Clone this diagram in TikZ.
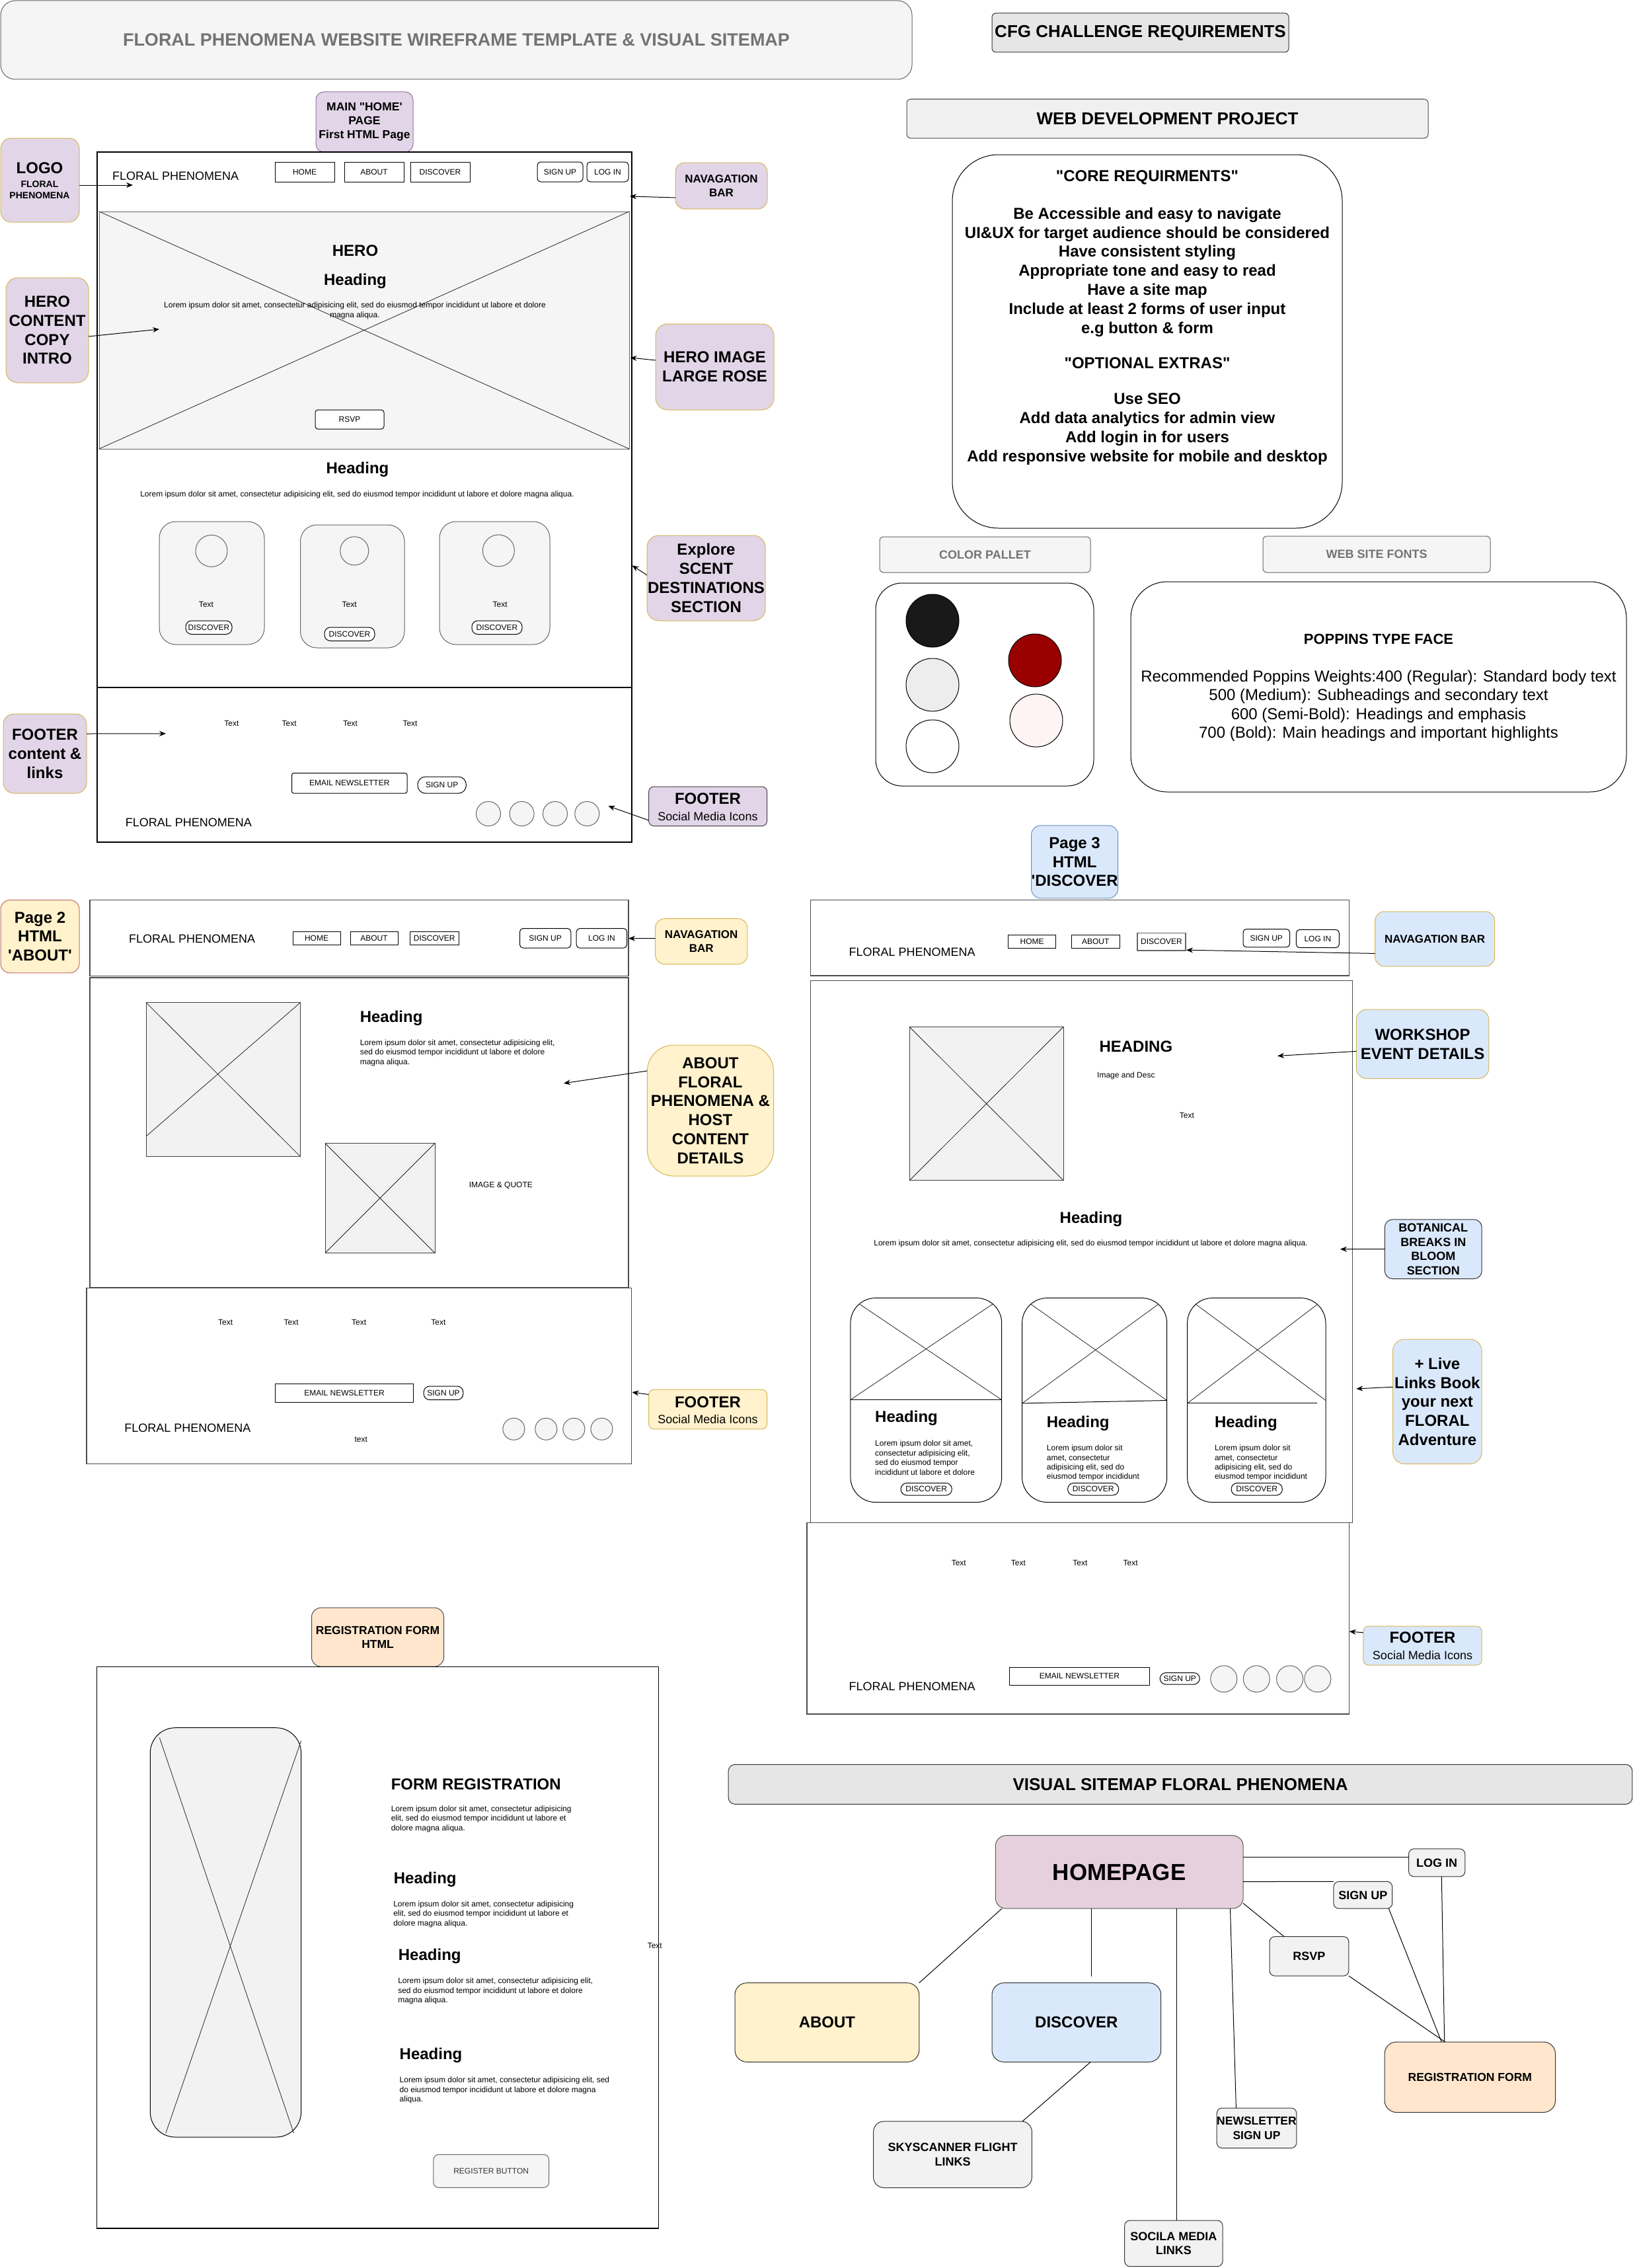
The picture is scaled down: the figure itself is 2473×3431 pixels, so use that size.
\documentclass[tikz,border=0pt]{standalone}
\usepackage{fontspec}
\setmainfont{Liberation Sans}
\usetikzlibrary{arrows.meta}
\definecolor{cLav}{HTML}{E1D5E7}
\definecolor{cLavS}{HTML}{9673A6}
\definecolor{cGold}{HTML}{D6B656}
\definecolor{cYel}{HTML}{FFF2CC}
\definecolor{cBlu}{HTML}{DAE8FC}
\definecolor{cBluS}{HTML}{6C8EBF}
\definecolor{cPch}{HTML}{FFE6CC}
\definecolor{cPchS}{HTML}{4D4D4D}
\definecolor{cPh}{HTML}{F5F5F5}
\definecolor{cPhS}{HTML}{666666}
\definecolor{cHp}{HTML}{E6D0DE}
\definecolor{cGr}{HTML}{E6E6E6}
\definecolor{cImg}{HTML}{F2F2F2}
\definecolor{cRed}{HTML}{990000}
\definecolor{cPink}{HTML}{FFF4F4}
\definecolor{cPtwoS}{HTML}{C0706A}
\definecolor{cPtwoF}{HTML}{FFF2CC}
\newcommand\fs[2]{\fontsize{#1}{#2}\selectfont}
\newcommand\wbox[7]{\node[#1, minimum width={(#5)-(#3)}, minimum height={(#6)-(#4)}] (#2) at ({((#3)+(#5))/2},{((#4)+(#6))/2}) {#7};}
\newcommand\lorFull{Lorem ipsum dolor sit amet, consectetur adipisicing elit, sed do eiusmod tempor incididunt ut labore et dolore magna aliqua.}
\begin{document}
\begin{tikzpicture}[x=1pt,y=-1pt,
  every node/.style={inner sep=0pt, outer sep=0pt},
  frame/.style={draw=black, line width=1.3pt},
  frameg/.style={draw=black!70, line width=1.3pt},
  ph/.style={draw=cPhS, fill=cPh, line width=1pt},
  img/.style={draw=black!75, fill=cImg, line width=1pt},
  xl/.style={draw=black!85, line width=0.8pt},
  btn/.style={draw=black, fill=white, line width=1pt, font=\fs{12}{14.4}},
  rbtn/.style={btn, rounded corners=5pt},
  pill/.style={btn, rounded corners=9pt},
  small/.style={font=\fs{12}{14.4}},
  logo/.style={font=\fs{18}{21.6}},
  hd/.style={font=\bfseries\fs{24}{28.8}},
  note/.style={rounded corners=14pt, line width=1pt, align=center, font=\bfseries\fs{24}{28.8}},
  arr/.style={draw=black, line width=1pt, -{Stealth[length=10pt,width=8pt]}},
  sm/.style={draw=black, line width=1pt},
  smbox/.style={draw=black!80, line width=1pt, rounded corners=8pt, align=center, font=\bfseries\fs{18}{21.6}},
  lor/.style={align=left, font=\fs{12}{14.4}}]

\fill[white] (0,0) rectangle (2473,3431);
\useasboundingbox (0,0) rectangle (2473,3431);

% ---------------- title & requirements
\wbox{draw=cPhS, fill=cPh, line width=1pt, rounded corners=22pt, font=\bfseries\fs{27}{32}, text=black!55}{title}{1}{1}{1380}{120}{FLORAL PHENOMENA WEBSITE WIREFRAME TEMPLATE \& VISUAL SITEMAP}
\wbox{draw=black!80, fill=cGr, line width=1pt, rounded corners=6pt, font=\bfseries\fs{26}{31}}{cfg}{1501}{20}{1950}{79}{CFG CHALLENGE REQUIREMENTS}
\wbox{draw=black!70, fill=black!6, line width=1pt, rounded corners=6pt, font=\bfseries\fs{26}{31}}{web}{1372}{150}{2161}{209}{WEB DEVELOPMENT PROJECT}
\wbox{draw=black, fill=white, line width=1pt, rounded corners=70pt}{core}{1441}{234}{2031}{799}{}
\node[hd] (coreT) at (1736,268.5) {\textquotedbl CORE REQUIRMENTS\textquotedbl};
\node[hd, align=center] (coreB) at (1736,411.6) {Be Accessible and easy to navigate\\UI\&UX for target audience should be considered\\Have consistent styling\\Appropriate tone and easy to read\\Have a site map\\Include at least 2 forms of user input\\e.g button \& form};
\node[hd] (optT) at (1736,549.4) {\textquotedbl OPTIONAL EXTRAS\textquotedbl};
\node[hd, align=center] (optB) at (1736,649) {Use SEO\\Add data analytics for admin view\\Add login in for users\\Add responsive website for mobile and desktop};

\wbox{draw=cPhS, fill=cPh, line width=1pt, rounded corners=6pt, font=\bfseries\fs{18}{21.6}, text=black!55}{colT}{1331}{812}{1650}{866}{COLOR PALLET}
\wbox{draw=cPhS, fill=cPh, line width=1pt, rounded corners=6pt, font=\bfseries\fs{18}{21.6}, text=black!55}{fontT}{1911}{811}{2255}{866}{WEB SITE FONTS}
\wbox{draw=black, fill=white, line width=1pt, rounded corners=40pt}{pal}{1325}{882}{1655}{1189}{}
\node[circle, draw=black, line width=1pt, fill=black!90, minimum size=80pt] (k1) at (1411,939) {};
\node[circle, draw=black, line width=1pt, fill=black!7, minimum size=80pt] (k2) at (1411,1036) {};
\node[circle, draw=black, line width=1pt, fill=white, minimum size=80pt] (k3) at (1411,1129) {};
\node[circle, draw=black, line width=1pt, fill=cRed, minimum size=80pt] (k4) at (1566,999) {};
\node[circle, draw=black, line width=1pt, fill=cPink, minimum size=80pt] (k5) at (1568,1090) {};
\wbox{draw=black, fill=white, line width=1pt, rounded corners=55pt}{fnt}{1711}{880}{2461}{1198}{}
\node[font=\bfseries\fs{22}{26}] (fntH) at (2086,966.5) {POPPINS TYPE FACE};
\node[align=center, font=\fs{24}{28.6}] (fntB) at (2086,1067.8) {Recommended Poppins Weights:400 (Regular): Standard body text\\500 (Medium): Subheadings and secondary text\\600 (Semi-Bold): Headings and emphasis\\700 (Bold): Main headings and important highlights};

% ---------------- HOME page
\wbox{note, fill=cLav, draw=cLavS, rounded corners=12pt, font=\bfseries\fs{17.5}{21}}{mainL}{478}{139}{625}{230}{MAIN \textquotedbl HOME\textquotesingle\\PAGE\\First HTML Page}
\wbox{frame}{homeTop}{147}{230}{956}{1040}{}
\wbox{frame}{homeFoot}{147}{1040}{956}{1274}{}
\node[logo] (hLogo) at (265.6,266) {FLORAL PHENOMENA};
\wbox{btn}{hHome}{416}{245}{506}{275}{HOME}
\wbox{btn}{hAbout}{521}{245}{611}{275}{ABOUT}
\wbox{btn}{hDisc}{621}{245}{711}{275}{DISCOVER}
\wbox{rbtn}{hSign}{813}{245}{882}{275}{SIGN UP}
\wbox{rbtn}{hLog}{888}{245}{951}{275}{LOG IN}

\wbox{note, fill=cLav, draw=cGold, rounded corners=16pt}{logoN}{1}{209}{120}{336}{}
\node[font=\bfseries\fs{24}{28}] (logoT1) at (60,254) {LOGO};
\node[align=center, font=\bfseries\fs{14}{17}] (logoT2) at (60,287) {FLORAL\\PHENOMENA};
\coordinate (logoTip) at (201,280);
\draw[arr] (logoN.east |- logoTip) -- (logoTip);

\wbox{note, fill=cLav, draw=cGold, font=\bfseries\fs{17}{21}}{navN}{1022}{246}{1161}{316}{NAVAGATION\\BAR}
\coordinate (navTip) at (953,297);
\draw[arr] ([yshift=-18pt]navN.west) -- (navTip);

\wbox{ph}{heroImg}{150}{320}{952}{679}{}
\draw[xl] (heroImg.north west) -- (heroImg.south east) (heroImg.north east) -- (heroImg.south west);
\node[hd] (heroT) at (537.5,379.5) {HERO};
\node[hd] (heroH) at (537.5,425.5) {Heading};
\node[lor, align=center] (heroL) at (537,470) {Lorem ipsum dolor sit amet, consectetur adipisicing elit, sed do eiusmod tempor incididunt ut labore et dolore\\magna aliqua.};
\wbox{btn, rounded corners=4pt}{rsvpB}{477}{620}{581}{649}{RSVP}

\wbox{note, fill=cLav, draw=cGold, rounded corners=18pt}{heroN}{9}{420}{134}{579}{HERO\\CONTENT\\COPY\\INTRO}
\coordinate (heroTip) at (241,498);
\draw[arr] ([yshift=-9.5pt]heroN.east) -- (heroTip);
\wbox{note, fill=cLav, draw=cGold, rounded corners=18pt}{hiN}{992}{490}{1171}{620}{HERO IMAGE\\LARGE ROSE}
\coordinate (hiTip) at (953.5,541);
\draw[arr] ([yshift=10pt]hiN.west) -- (hiTip);

\node[hd] (hH2) at (541,710) {Heading};
\node[small] (hL2) at (540.5,748) {\lorFull};
\wbox{ph, rounded corners=25pt}{hc1}{241}{789}{400}{975}{}
\wbox{ph, rounded corners=25pt}{hc2}{454.5}{794}{612}{980}{}
\wbox{ph, rounded corners=25pt}{hc3}{665}{789}{832}{975}{}
\node[ph, circle, minimum size=48pt] (hc1c) at (320,833.4) {};
\node[ph, circle, minimum size=43pt] (hc2c) at (536.3,833.4) {};
\node[ph, circle, minimum size=48pt] (hc3c) at (754.4,833) {};
\node[small] (hc1t) at (312,914) {Text};
\node[small] (hc2t) at (528.7,914) {Text};
\node[small] (hc3t) at (756.7,914) {Text};
\wbox{pill}{hc1b}{281}{939}{351}{959.5}{DISCOVER}
\wbox{pill}{hc2b}{491}{949}{567}{969.5}{DISCOVER}
\wbox{pill}{hc3b}{714}{939}{790}{959.5}{DISCOVER}

\wbox{note, fill=cLav, draw=cGold, rounded corners=18pt}{exN}{979}{810}{1158}{939}{Explore\\SCENT\\DESTINATIONS\\SECTION}
\coordinate (exTip) at (956.4,855.4);
\draw[arr] ([yshift=4.5pt]exN.west) -- (exTip);

\node[small] (hf1) at (350.4,1094) {Text};
\node[small] (hf2) at (437.6,1094) {Text};
\node[small] (hf3) at (530,1094) {Text};
\node[small] (hf4) at (620.5,1094) {Text};
\wbox{btn, rounded corners=3pt}{hEm}{441.5}{1169.5}{616}{1200}{EMAIL NEWSLETTER}
\wbox{btn, rounded corners=12pt}{hSu}{632}{1175}{705.4}{1200.2}{SIGN UP}
\node[ph, circle, minimum size=37pt] (hs1) at (739,1231) {};
\node[ph, circle, minimum size=37pt] (hs2) at (789.6,1231) {};
\node[ph, circle, minimum size=37pt] (hs3) at (840,1231) {};
\node[ph, circle, minimum size=37pt] (hs4) at (888.3,1231) {};
\node[logo] (hFP) at (285.4,1244) {FLORAL PHENOMENA};

\wbox{note, fill=cLav, draw=cGold, rounded corners=16pt}{fcN}{5}{1080}{131}{1200}{FOOTER\\content \&\\links}
\coordinate (fcTip) at (251,1109.8);
\draw[arr] ([yshift=30pt]fcN.east) -- (fcTip);
\wbox{note, fill=cLav, draw=black!75, rounded corners=8pt}{fsN}{981.6}{1190}{1160.7}{1249.6}{}
\node[hd] (fsT1) at (1071,1208) {FOOTER};
\node[font=\fs{18}{21.6}] (fsT2) at (1071,1234.6) {Social Media Icons};
\coordinate (fsTip) at (920.4,1219.3);
\draw[arr] ([yshift=8.6pt]fsN.south west) -- (fsTip);

% ---------------- ABOUT page
\wbox{note, fill=cPtwoF, draw=cPtwoS, rounded corners=14pt}{ptwoN}{1}{1361.6}{120}{1471.8}{Page 2\\HTML\\\textquotesingle ABOUT\textquotesingle}
\wbox{frameg}{aNav}{136}{1361.6}{951}{1476.4}{}
\node[logo] (aLogo) at (290.7,1420.7) {FLORAL PHENOMENA};
\wbox{btn}{aHome}{443}{1409}{515}{1429}{HOME}
\wbox{btn}{aAbout}{530}{1409}{602}{1429}{ABOUT}
\wbox{btn}{aDisc}{620.5}{1409}{694}{1429}{DISCOVER}
\wbox{rbtn}{aSign}{786.5}{1404.6}{863.8}{1434}{SIGN UP}
\wbox{rbtn}{aLog}{872.2}{1404.6}{948.7}{1434}{LOG IN}
\wbox{note, fill=cYel, draw=cGold, font=\bfseries\fs{17}{21}}{anN}{991.6}{1389.7}{1130.8}{1458.6}{NAVAGATION\\BAR}
\coordinate (anTip) at (951,1419.6);
\draw[arr] ([yshift=4.6pt]anN.west) -- (anTip);

\wbox{frameg}{aBody}{136}{1479}{951}{1948}{}
\wbox{img}{aImg1}{221}{1516.6}{454.5}{1749.6}{}
\coordinate (aImg1x) at (221,1719);
\draw[xl] (aImg1.north west) -- (aImg1.south east) (aImg1.north east) -- (aImg1x);
\node[hd, anchor=west] (aH) at (544.8,1540) {Heading};
\node[lor, anchor=west] (aL) at (544.8,1592.6) {Lorem ipsum dolor sit amet, consectetur adipisicing elit,\\sed do eiusmod tempor incididunt ut labore et dolore\\magna aliqua.};
\wbox{img}{aImg2}{492}{1729.5}{658}{1895.5}{}
\draw[xl] (aImg2.north west) -- (aImg2.south east) (aImg2.north east) -- (aImg2.south west);
\node[small] (aQ) at (757.9,1793.8) {IMAGE \& QUOTE};
\wbox{note, fill=cYel, draw=cGold, rounded corners=40pt}{afN}{979.3}{1581}{1170.6}{1779}{ABOUT\\FLORAL\\PHENOMENA \&\\HOST\\CONTENT\\DETAILS}
\coordinate (afTip) at (853,1638.8);
\draw[arr] ([yshift=60pt]afN.west) -- (afTip);

\wbox{frameg}{aFoot}{131}{1948.3}{955.6}{2214.6}{}
\node[small] (af1) at (341.2,2000.5) {Text};
\node[small] (af2) at (440.7,2000.5) {Text};
\node[small] (af3) at (543.2,2000.5) {Text};
\node[small] (af4) at (663.4,2000.5) {Text};
\wbox{btn}{aEm}{416.2}{2093.5}{625.9}{2121.6}{EMAIL NEWSLETTER}
\wbox{pill}{aSu}{641.2}{2097}{700.8}{2117.6}{SIGN UP}
\node[logo] (aFP) at (283.9,2160.6) {FLORAL PHENOMENA};
\node[small] (aTx) at (546.3,2177.3) {text};
\node[ph, circle, minimum size=33pt] (as1) at (777.4,2161.8) {};
\node[ph, circle, minimum size=33pt] (as2) at (826.3,2161.8) {};
\node[ph, circle, minimum size=33pt] (as3) at (868.4,2161.8) {};
\node[ph, circle, minimum size=33pt] (as4) at (910.5,2161.8) {};
\wbox{note, fill=cYel, draw=cGold, rounded corners=8pt}{aftN}{981.6}{2102}{1160.7}{2161.8}{}
\node[hd] (aftT1) at (1071,2121) {FOOTER};
\node[font=\fs{18}{21.6}] (aftT2) at (1071,2146.9) {Social Media Icons};
\coordinate (aftTip) at (956.4,2106.1);
\draw[arr] ([yshift=22.3pt]aftN.west) -- (aftTip);

% ---------------- DISCOVER page
\wbox{note, fill=cBlu, draw=cBluS, rounded corners=14pt}{pthreeN}{1561.2}{1248.8}{1691}{1358.8}{Page 3\\HTML\\\textquotesingle DISCOVER}
\wbox{frameg}{dNav}{1226.8}{1361.5}{2041.7}{1476}{}
\node[logo] (dLogo) at (1380.2,1440.7) {FLORAL PHENOMENA};
\wbox{btn}{dHome}{1525.5}{1414.3}{1597.7}{1434.5}{HOME}
\wbox{btn}{dAbout}{1621.3}{1414.3}{1694.3}{1434.5}{ABOUT}
\wbox{btn, draw=black!60, line width=1.5pt}{dDisc}{1721}{1411.7}{1794}{1438}{DISCOVER}
\wbox{rbtn}{dSign}{1881}{1405.5}{1951.6}{1432.8}{SIGN UP}
\wbox{rbtn}{dLog}{1961.4}{1406.4}{2026.3}{1433.7}{LOG IN}
\wbox{note, fill=cBlu, draw=cGold, font=\bfseries\fs{17}{21}}{dnN}{2080.7}{1379}{2261.7}{1461.8}{NAVAGATION BAR}
\coordinate (dnTip) at (1795,1437.2);
\draw[arr] ([yshift=-22pt]dnN.west) -- (dnTip);

\wbox{frameg}{dBody}{1226.8}{1483.8}{2046.6}{2303.4}{}
\wbox{img}{dImg}{1376.1}{1553.4}{1609.1}{1785.8}{}
\draw[xl] (dImg.north west) -- (dImg.south east) (dImg.north east) -- (dImg.south west);
\node[hd, anchor=west] (dHd) at (1663.5,1583.3) {HEADING};
\node[small, anchor=west] (dDesc) at (1660.2,1627.3) {Image and Desc};
\node[small] (dTx) at (1795.8,1687.2) {Text};
\wbox{note, fill=cBlu, draw=cGold, rounded corners=16pt}{wsN}{2052.3}{1527}{2252.8}{1631.7}{WORKSHOP\\EVENT DETAILS}
\coordinate (wsTip) at (1933,1597.4);
\draw[arr] ([yshift=-11pt]wsN.west) -- (wsTip);
\node[hd] (dH2) at (1651,1843.9) {Heading};
\node[small] (dL2) at (1650.5,1881.7) {\lorFull};
\wbox{note, fill=cBlu, draw=black!80, rounded corners=12pt, font=\bfseries\fs{18}{21.6}}{botN}{2095.3}{1844.8}{2242.2}{1934.5}{BOTANICAL\\BREAKS IN\\BLOOM\\SECTION}
\coordinate (botTip) at (2027.9,1889.7);
\draw[arr] (botN.west) -- (botTip);

\wbox{draw=black, fill=white, line width=1pt, rounded corners=38pt}{dc1}{1286.9}{1963.6}{1515.7}{2272.6}{}
\wbox{draw=black, fill=white, line width=1pt, rounded corners=38pt}{dc2}{1546.6}{1963.6}{1765.7}{2272.6}{}
\wbox{draw=black, fill=white, line width=1pt, rounded corners=38pt}{dc3}{1796.6}{1963.6}{2006}{2272.6}{}
\begin{scope}
\clip[rounded corners=38pt] (dc1.north west) rectangle (dc1.south east);
\draw[xl] (dc1.north west) -- (1515.7,2117.6) (dc1.north east) -- (1286.9,2117.6);
\draw[sm] (1286.9,2117.6) -- (1515.7,2117.6);
\end{scope}
\begin{scope}
\clip[rounded corners=38pt] (dc2.north west) rectangle (dc2.south east);
\draw[xl] (dc2.north west) -- (1765.7,2118.5) (dc2.north east) -- (1546.6,2122.9);
\draw[sm] (1546.6,2122.9) -- (1765.7,2118.5);
\end{scope}
\begin{scope}
\clip[rounded corners=38pt] (dc3.north west) rectangle (dc3.south east);
\draw[xl] (dc3.north west) -- (2006,2118.5) (dc3.north east) -- (1796.6,2122.9);
\draw[sm] (1796.6,2122.9) -- (1993,2122.9);
\end{scope}
\node[hd, anchor=west] (dc1h) at (1324.2,2145.8) {Heading};
\node[lor, anchor=west] (dc1l) at (1324.2,2205.2) {Lorem ipsum dolor sit amet,\\consectetur adipisicing elit,\\sed do eiusmod tempor\\incididunt ut labore et dolore};
\node[hd, anchor=west] (dc2h) at (1583.9,2153.7) {Heading};
\node[lor, anchor=west] (dc2l) at (1583.9,2213.2) {Lorem ipsum dolor sit\\amet, consectetur\\adipisicing elit, sed do\\eiusmod tempor incididunt};
\node[hd, anchor=west] (dc3h) at (1838,2153.7) {Heading};
\node[lor, anchor=west] (dc3l) at (1838,2213.2) {Lorem ipsum dolor sit\\amet, consectetur\\adipisicing elit, sed do\\eiusmod tempor incididunt};
\wbox{pill}{dc1b}{1363.1}{2243.5}{1440.3}{2262}{DISCOVER}
\wbox{pill}{dc2b}{1615.6}{2243.5}{1692.7}{2262}{DISCOVER}
\wbox{pill}{dc3b}{1863.1}{2243.5}{1940.3}{2262}{DISCOVER}
\wbox{note, fill=cBlu, draw=cGold, rounded corners=18pt}{lvN}{2107.5}{2026}{2242.2}{2214.5}{+ Live\\Links Book\\your next\\FLORAL\\Adventure}
\coordinate (lvTip) at (2052.3,2100.9);
\draw[arr] ([yshift=22pt]lvN.west) -- (lvTip);

\wbox{frameg}{dFoot}{1221.1}{2303.4}{2041.7}{2593}{}
\node[small] (df1) at (1450.8,2364.1) {Text};
\node[small] (df2) at (1540.9,2364.1) {Text};
\node[small] (df3) at (1634.3,2364.1) {Text};
\node[small] (df4) at (1710.6,2364.1) {Text};
\wbox{btn}{dEm}{1527.9}{2522.6}{1739}{2549}{EMAIL NEWSLETTER}
\wbox{pill}{dSu}{1755.2}{2530.5}{1815.3}{2548.1}{SIGN UP}
\node[ph, circle, minimum size=40pt] (ds1) at (1851.8,2539.8) {};
\node[ph, circle, minimum size=40pt] (ds2) at (1901.3,2539.8) {};
\node[ph, circle, minimum size=40pt] (ds3) at (1951.6,2539.8) {};
\node[ph, circle, minimum size=40pt] (ds4) at (1993.8,2539.8) {};
\node[logo] (dFP) at (1380.2,2550.8) {FLORAL PHENOMENA};
\wbox{note, fill=cBlu, draw=cGold, rounded corners=8pt}{dfN}{2062.8}{2460}{2242.2}{2519}{}
\node[hd] (dfT1) at (2152.5,2477.6) {FOOTER};
\node[font=\fs{18}{21.6}] (dfT2) at (2152.5,2504.1) {Social Media Icons};
\coordinate (dfTip) at (2041.7,2468);
\draw[arr] ([yshift=19.7pt]dfN.west) -- (dfTip);

% ---------------- REGISTRATION form
\wbox{note, fill=cPch, draw=cPchS, rounded corners=14pt, font=\bfseries\fs{17.5}{21}}{regL}{471.5}{2432.2}{671.6}{2521}{REGISTRATION FORM\\HTML}
\wbox{frame}{rPage}{146.4}{2521.6}{996.7}{3371.1}{}
\wbox{draw=black, fill=cImg, line width=1pt, rounded corners=38pt}{rImg}{227.3}{2613.7}{455.6}{3233}{}
\draw[xl] (241.4,2628.8) -- (444.5,3227) (455.6,2633.4) -- (250.8,3227);
\node[hd, anchor=west] (rH1) at (591.8,2699.2) {FORM REGISTRATION};
\node[lor, anchor=west] (rL1) at (591.8,2751.7) {Lorem ipsum dolor sit amet, consectetur adipisicing\\elit, sed do eiusmod tempor incididunt ut labore et\\dolore magna aliqua.};
\node[hd, anchor=west] (rH2) at (595.9,2843.8) {Heading};
\node[lor, anchor=west] (rL2) at (595.3,2895.6) {Lorem ipsum dolor sit amet, consectetur adipisicing\\elit, sed do eiusmod tempor incididunt ut labore et\\dolore magna aliqua.};
\node[hd, anchor=west] (rH3) at (602.9,2959.5) {Heading};
\node[lor, anchor=west] (rL3) at (602.3,3012) {Lorem ipsum dolor sit amet, consectetur adipisicing elit,\\sed do eiusmod tempor incididunt ut labore et dolore\\magna aliqua.};
\node[hd, anchor=west] (rH4) at (604.7,3109.4) {Heading};
\node[lor, anchor=west] (rL4) at (604.7,3162) {Lorem ipsum dolor sit amet, consectetur adipisicing elit, sed\\do eiusmod tempor incididunt ut labore et dolore magna\\aliqua.};
\node[small] (rTx) at (990.8,2943) {Text};
\wbox{ph, rounded corners=8pt, font=\fs{12}{14.4}, text=black!80}{rBtn}{655.8}{3259.3}{830.6}{3309.3}{REGISTER BUTTON}

% ---------------- SITEMAP
\wbox{draw=black!80, fill=cGr, line width=1pt, rounded corners=10pt, font=\bfseries\fs{26}{31}}{smT}{1102.2}{2669.3}{2469.9}{2729.3}{VISUAL SITEMAP FLORAL PHENOMENA}
\wbox{smbox, fill=cHp, draw=black!65, rounded corners=16pt, font=\bfseries\fs{35}{42}}{sHome}{1506.3}{2776.7}{1881.1}{2887.2}{HOMEPAGE}
\wbox{smbox, fill=cImg}{sLog}{2131.5}{2796.9}{2216.8}{2838.8}{LOG IN}
\wbox{smbox, fill=cImg}{sSign}{2017.9}{2846.4}{2106.7}{2887.2}{SIGN UP}
\wbox{smbox, fill=cImg}{sRsvp}{1921}{2929.6}{2040.9}{2989.1}{RSVP}
\wbox{smbox, fill=cYel, rounded corners=18pt, font=\bfseries\fs{24}{28.8}}{sAbout}{1112}{2999.7}{1390.8}{3119.3}{ABOUT}
\wbox{smbox, fill=cBlu, rounded corners=18pt, font=\bfseries\fs{24}{28.8}}{sDisc}{1501}{2999.7}{1756.7}{3119.3}{DISCOVER}
\wbox{smbox, fill=cPch, rounded corners=18pt, font=\bfseries\fs{17.5}{21}}{sReg}{2095.1}{3089}{2353.5}{3195.5}{REGISTRATION FORM}
\wbox{smbox, fill=cImg, rounded corners=16pt}{sSky}{1321.6}{3209.1}{1561.4}{3309.5}{SKYSCANNER FLIGHT\\LINKS}
\wbox{smbox, fill=cImg, font=\bfseries\fs{17.5}{21.6}}{sNews}{1842}{3189}{1961}{3249.5}{NEWSLETTER\\SIGN UP}
\wbox{smbox, fill=cImg}{sSoc}{1701.7}{3359}{1850}{3428.6}{SOCILA MEDIA\\LINKS}

\coordinate (yLog) at (0,2809.5);
\coordinate (ySign) at (0,2846.5);
\coordinate (yRsvp) at (0,2879.2);
\coordinate (xDisc) at (1651,0);
\coordinate (xSoc) at (1780.7,0);
\coordinate (xNews) at (1870.4,0);
\coordinate (xSky) at (1650.2,0);
\coordinate (xRegA) at (2185.7,0);
\coordinate (xRegB) at (2181.3,0);
\coordinate (xRegC) at (2186.6,0);
\draw[sm] (sHome.east |- yLog) -- (sLog.west |- yLog);
\draw[sm] (sHome.east |- ySign) -- (sSign.north west);
\draw[sm] (sHome.east |- yRsvp) -- ([xshift=22pt]sRsvp.north west);
\draw[sm] ([xshift=9.7pt]sHome.south west) -- (sAbout.north east);
\draw[sm, shorten >=10pt] (sHome.south -| xDisc) -- (sDisc.north -| xDisc);
\draw[sm] (sHome.south -| xSoc) -- (sSoc.north -| xSoc);
\draw[sm] ([xshift=-19.6pt]sHome.south east) -- (sNews.north -| xNews);
\draw[sm] (sDisc.south -| xSky) -- ([xshift=-14.3pt]sSky.north east);
\draw[sm] (sLog.south -| xRegB) -- (sReg.north -| xRegA);
\draw[sm] ([xshift=-5.4pt]sSign.south east) -- (sReg.north -| xRegB);
\draw[sm] (sRsvp.south east) -- (sReg.north -| xRegC);
\end{tikzpicture}
\end{document}
